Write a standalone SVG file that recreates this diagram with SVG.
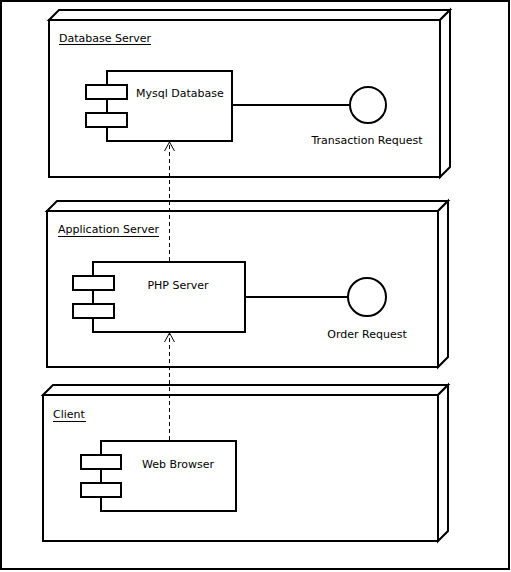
<svg xmlns="http://www.w3.org/2000/svg" width="511" height="572" viewBox="0 0 511 572">
<style>
.bg{fill:#fff}
.frame{fill:none;stroke:#000;stroke-width:2}
.node{fill:#fff;stroke:#000;stroke-width:2;stroke-linejoin:miter}
.comp{fill:#fff;stroke:#000;stroke-width:2}
.t{font-family:"DejaVu Sans",Verdana,sans-serif;font-size:11px;fill:#000}
.u{stroke:#000;stroke-width:1}
.solid{stroke:#000;stroke-width:2;fill:none}
.dash{stroke:#000;stroke-width:1;stroke-dasharray:4 3;fill:none}
.head{stroke:#000;stroke-width:1;fill:none}
</style>
<rect class="bg" x="0" y="0" width="511" height="572"/>
<rect class="frame" x="1" y="1" width="508" height="568"/>

<g id="node-database-server">
<path class="node" d="M49,20 L59,10 L450,10 L440,20 Z"/>
<path class="node" d="M440,20 L450,10 L450,167 L440,177 Z"/>
<rect class="node" x="49" y="20" width="391" height="157"/>
<text class="t" x="59" y="42">Database Server</text>
<line class="u" x1="59" y1="44.5" x2="151" y2="44.5"/>
</g>

<g id="comp-mysql">
<rect class="comp" x="107" y="71" width="125" height="70"/>
<rect class="comp" x="86" y="85" width="41" height="14"/>
<rect class="comp" x="86" y="113" width="41" height="14"/>
<text class="t" x="136" y="97">Mysql Database</text>
</g>

<g id="iface-transaction">
<circle class="comp" cx="368" cy="105" r="18"/>
<text class="t" x="367" y="144" text-anchor="middle">Transaction Request</text>
</g>

<g id="node-application-server">
<path class="node" d="M47,211 L57,201 L448,201 L438,211 Z"/>
<path class="node" d="M438,211 L448,201 L448,357 L438,367 Z"/>
<rect class="node" x="47" y="211" width="391" height="156"/>
<text class="t" x="58" y="233">Application Server</text>
<line class="u" x1="58" y1="236.5" x2="159" y2="236.5"/>
</g>

<g id="comp-php">
<rect class="comp" x="93" y="262" width="152" height="70"/>
<rect class="comp" x="73" y="276" width="41" height="14"/>
<rect class="comp" x="73" y="304" width="41" height="14"/>
<text class="t" x="178" y="289" text-anchor="middle">PHP Server</text>
</g>

<g id="iface-order">
<circle class="comp" cx="367" cy="297" r="19"/>
<text class="t" x="367" y="338" text-anchor="middle">Order Request</text>
</g>

<g id="node-client">
<path class="node" d="M43,395 L53,385 L448,385 L438,395 Z"/>
<path class="node" d="M438,395 L448,385 L448,531 L438,541 Z"/>
<rect class="node" x="43" y="395" width="395" height="146"/>
<text class="t" x="53" y="418">Client</text>
<line class="u" x1="53" y1="421.5" x2="86" y2="421.5"/>
</g>

<g id="comp-web-browser">
<rect class="comp" x="101" y="441" width="135" height="70"/>
<rect class="comp" x="81" y="455" width="40" height="14"/>
<rect class="comp" x="81" y="483" width="40" height="14"/>
<text class="t" x="178" y="468" text-anchor="middle">Web Browser</text>
</g>

<g id="connectors">
<line class="solid" x1="232" y1="105" x2="350" y2="105"/>
<line class="solid" x1="245" y1="297" x2="348" y2="297"/>
<line class="dash" x1="169.5" y1="261" x2="169.5" y2="143"/>
<path class="head" d="M164.5,151 L169.5,142 L174.5,151"/>
<line class="dash" x1="169.5" y1="440" x2="169.5" y2="334"/>
<path class="head" d="M164.5,342 L169.5,333 L174.5,342"/>
</g>
</svg>
